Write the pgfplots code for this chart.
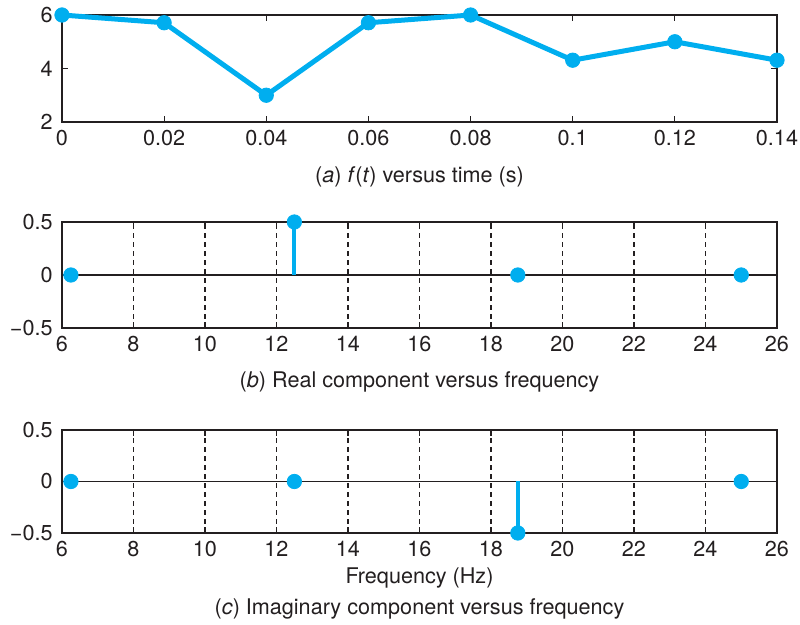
\documentclass[border=0pt]{standalone}
\usepackage{fontspec}
\setmainfont{TeX Gyre Heros}
\usepackage{pgfplots}
\pgfplotsset{compat=1.18}
\definecolor{stem}{RGB}{0,174,239}
\definecolor{ink}{RGB}{35,31,32}

\pgfplotsset{
  panel/.style={
    scale only axis, width=357.5pt, anchor=north west,
    axis line style={ink, line width=0.8pt},
    tick style={ink, line width=0.6pt},
    major tick length=3pt, tick align=inside,
    ticklabel style={font=\fontsize{10.8}{13}\selectfont, text=ink},
    xticklabel style={yshift=-0.8pt},
    yticklabel style={xshift=-1.2pt},
    /pgf/number format/assume math mode=true,
    clip=false,
  },
  freq/.style={
    panel,
    xmin=6, xmax=26, ymin=-0.5, ymax=0.5,
    xtick={6,8,...,26},
    ytick={-0.5,0,0.5}, yticklabels={−0.5,0,0.5},
    xmajorgrids,
    major grid style={ink, line width=0.6pt, dash pattern=on 2.5pt off 2pt},
    extra y ticks={0}, extra y tick labels={},
    extra y tick style={grid=major, major grid style={ink, line width=0.6pt, solid}},
  },
  dots/.style={stem, mark=*, mark size=3.6pt, mark options={solid, line width=0.4pt}},
}

\begin{document}
\begin{tikzpicture}[every node/.style={font=\fontsize{10.8}{13}\selectfont}]
\useasboundingbox (0,0) rectangle (400pt,-312.5pt);

% (a) samples in time
\begin{axis}[panel, at={(31pt,-7.5pt)}, height=53.5pt,
  xmin=0, xmax=0.14, ymin=2, ymax=6,
  xtick={0,0.02,0.04,0.06,0.08,0.1,0.12,0.14},
  xticklabels={0,0.02,0.04,0.06,0.08,0.1,0.12,0.14},
  ytick={2,4,6}]
\addplot[dots, line width=2.5pt] coordinates {
  (0,6) (0.02,5.71) (0.04,3.0) (0.06,5.71) (0.08,6) (0.1,4.31) (0.12,5.0) (0.14,4.31)
};
\end{axis}

% (b) real part
\begin{axis}[freq, at={(31pt,-111pt)}, height=53pt]
\addplot[dots, ycomb, line width=2pt] coordinates {
  (6.25,0) (12.5,0.5) (18.75,0) (25,0)
};
\end{axis}

% (c) imaginary part
\begin{axis}[freq, at={(31pt,-215pt)}, height=51.5pt]
\addplot[dots, ycomb, line width=2pt] coordinates {
  (6.25,0) (12.5,0) (18.75,-0.5) (25,0)
};
\end{axis}

\node[text=ink] at (209.75pt,-88.5pt) {(\textit{a}) \textit{f}(\textit{t}) versus time (s)};
\node[text=ink] at (209.75pt,-191pt) {(\textit{b}) Real component versus frequency};
\node[text=ink] at (209.75pt,-289pt) {Frequency (Hz)};
\node[text=ink] at (209.75pt,-304.5pt) {(\textit{c}) Imaginary component versus frequency};
\end{tikzpicture}
\end{document}
